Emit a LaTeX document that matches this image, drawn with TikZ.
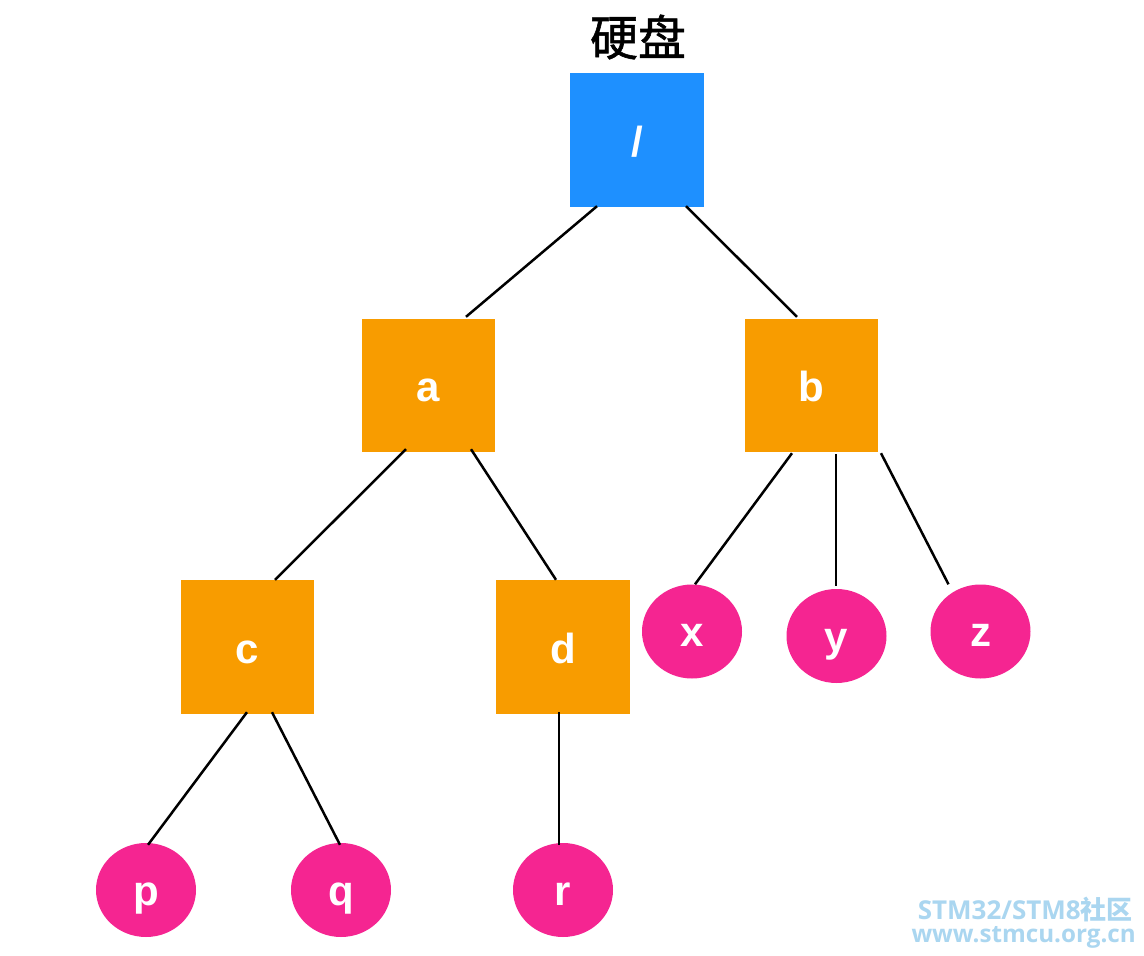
\documentclass[tikz,border=0pt]{standalone}
\usepackage{fontspec}
\setmainfont{Liberation Sans}
\newfontfamily\cjk{Noto Sans CJK SC}
\newfontfamily\cjktitle[FakeBold=1.2]{Noto Sans CJK SC}
\newfontfamily\wmfont{Open Sans}
\usetikzlibrary{shapes.geometric}
\definecolor{rootblue}{RGB}{30,144,255}
\definecolor{dirorange}{RGB}{248,156,0}
\definecolor{filepink}{RGB}{245,37,145}
\definecolor{wmblue}{RGB}{170,214,240}
\begin{document}
\begin{tikzpicture}[x=1pt,y=-1pt,
  dirbox/.style={rectangle,fill=dirorange,draw=none,inner sep=0pt,minimum width=133pt,minimum height=133pt,text=white,text height=36pt,text depth=4pt,font=\fontsize{42}{46}\selectfont\bfseries},
  rootbox/.style={dirbox,fill=rootblue},
  filenode/.style={ellipse,fill=filepink,draw=none,inner sep=0pt,minimum width=100pt,minimum height=94pt,text=white,text height=34pt,text depth=4pt,font=\fontsize{42}{46}\selectfont\bfseries},
  wmark/.style={anchor=base east,inner sep=0pt,text=wmblue},
  link/.style={line width=2.5pt,black}]
\useasboundingbox (0,0) rectangle (1144,956);
\fill[white] (0,0) rectangle (1144,956);
\node[font=\cjktitle\fontsize{48}{52}\selectfont] (title) at (638,37) {硬盘};
\node[rootbox,minimum width=134pt,minimum height=134pt] (root) at (637,140) {/};
\node[dirbox] (a) at (428.5,385.5) {a};
\node[dirbox] (b) at (811.5,385.5) {b};
\node[dirbox,minimum height=134pt] (c) at (247.5,647) {c};
\node[dirbox,minimum width=134pt,minimum height=134pt] (d) at (563,647) {d};
\node[filenode] (x) at (692,631.5) {x};
\node[filenode] (y) at (836.5,636) {y};
\node[filenode] (z) at (980.5,631.5) {z};
\node[filenode] (p) at (146,890) {p};
\node[filenode] (q) at (341,890) {q};
\node[filenode] (r) at (563,890) {r};
\draw[link] ([xshift=-40pt,yshift=1pt]root.south) -- ([xshift=37.5pt,yshift=2pt]a.north);
\draw[link] ([xshift=49pt,yshift=1pt]root.south) -- ([xshift=-14.5pt,yshift=2pt]b.north);
\draw[link] ([xshift=-22.5pt,yshift=3pt]a.south) -- ([xshift=27.5pt]c.north);
\draw[link] ([xshift=42.5pt,yshift=3pt]a.south) -- ([xshift=-7pt]d.north);
\draw[link] ([xshift=-19.5pt,yshift=-1pt]b.south) -- ([xshift=3pt]x.north);
\draw[link] ([xshift=24.5pt,yshift=-2pt]b.south) -- ([xshift=-0.5pt,yshift=3pt]y.north);
\draw[link] ([xshift=69.5pt,yshift=-1pt]b.south) -- ([xshift=-32pt]z.north);
\draw[link] ([xshift=-0.5pt,yshift=2pt]c.south) -- ([xshift=2pt,yshift=-2pt]p.north);
\draw[link] ([xshift=24.5pt,yshift=2pt]c.south) -- ([xshift=-1pt,yshift=-2pt]q.north);
\draw[link] ([xshift=-4pt,yshift=2pt]d.south) -- ([xshift=-4pt,yshift=-2pt]r.north);
\node[wmark,text depth=0pt,font=\wmfont\fontsize{26}{27}\selectfont\bfseries] (wm1) at (1133,919.5) {STM32/STM8{\cjk\bfseries 社区}};
\node[wmark,text height=13pt,font=\wmfont\fontsize{24.2}{25}\selectfont\bfseries] (wm2) at (1136,942) {www.stmcu.org.cn};
\end{tikzpicture}
\end{document}
